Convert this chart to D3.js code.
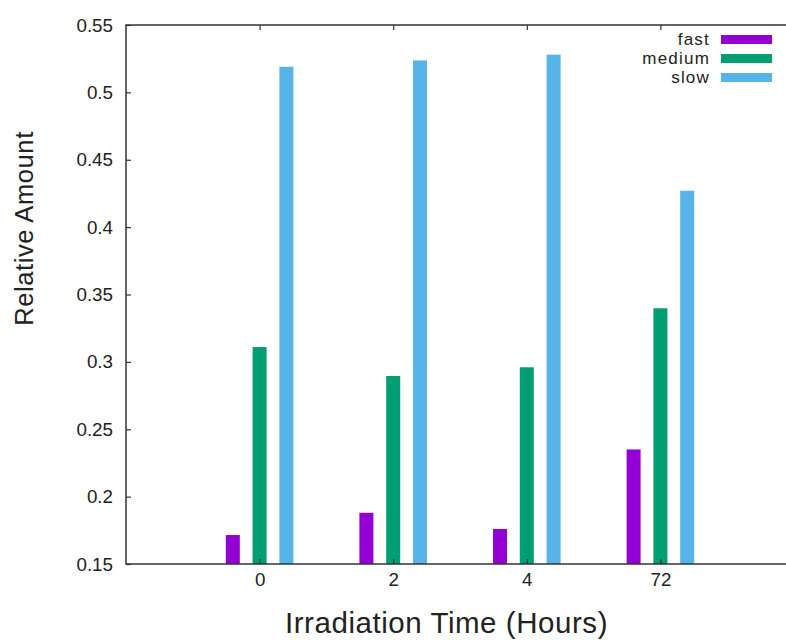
<!DOCTYPE html>
<html>
<head>
<meta charset="utf-8">
<script src="https://cdn.jsdelivr.net/npm/d3@7"></script>
<style>
  html, body { margin: 0; padding: 0; background: #fff; }
  svg { display: block; }
  text { font-family: "Liberation Sans", Arial, sans-serif; fill: #222; }
</style>
</head>
<body>
<svg id="chart" width="786" height="642"></svg>
<script>
// ---- data ----
const categories = ["0", "2", "4", "72"];
const seriesNames = ["fast", "medium", "slow"];
const fastValues   = [0.1715, 0.188, 0.176, 0.235];
const mediumValues = [0.311, 0.2895, 0.296, 0.3398];
const slowValues   = [0.519, 0.5237, 0.528, 0.427];
const seriesColors = ["#9400D3", "#009E73", "#56B4E9"];
const yTicks = [0.15, 0.2, 0.25, 0.3, 0.35, 0.4, 0.45, 0.5, 0.55];
const yTickLabels = ["0.15", "0.2", "0.25", "0.3", "0.35", "0.4", "0.45", "0.5", "0.55"];
const xTitle = "Irradiation Time (Hours)";
const yTitle = "Relative Amount";

const seriesValues = [fastValues, mediumValues, slowValues];

// ---- layout ----
const plotLeft = 126, plotTop = 25, plotBottom = 564;
const step = 133.6;
const plotRight = plotLeft + step * 5;

const svg = d3.select("#chart");
svg.append("rect").attr("width", 786).attr("height", 642).attr("fill", "#fff");

const x = d3.scalePoint().domain(categories)
  .range([plotLeft + step, plotLeft + step * 4]);
const xOff = d3.scalePoint().domain(seriesNames).range([-26.8, 26.8]);
const barW = 14;
const y = d3.scaleLinear().domain([0.15, 0.55]).range([plotBottom, plotTop]);

// bars
seriesNames.forEach((s, si) => {
  svg.append("g").selectAll("rect")
    .data(categories.map((c, ci) => ({ c, v: seriesValues[si][ci] })))
    .join("rect")
    .attr("x", d => x(d.c) + xOff(s) - barW / 2)
    .attr("width", barW)
    .attr("y", d => y(d.v))
    .attr("height", d => y(0.15) - y(d.v))
    .attr("fill", seriesColors[si]);
});

// axes
const yAxis = d3.axisLeft(y).tickValues(yTicks)
  .tickFormat((d, i) => yTickLabels[i]).tickSizeInner(-5).tickSizeOuter(0).tickPadding(13);
const gy = svg.append("g").attr("transform", `translate(${plotLeft},0)`).call(yAxis);

const xAxis = d3.axisBottom(x).tickSizeInner(-5).tickSizeOuter(0).tickPadding(9);
const gx = svg.append("g").attr("transform", `translate(0,${plotBottom})`).call(xAxis);

const xAxisTop = d3.axisTop(x).tickSizeInner(-5).tickSizeOuter(0).tickFormat("");
const gxt = svg.append("g").attr("transform", `translate(0,${plotTop})`).call(xAxisTop);

[gy, gx, gxt].forEach(g => {
  g.select(".domain").remove();
  g.selectAll(".tick line").attr("stroke", "#333").attr("stroke-width", 1.2);
  g.selectAll(".tick text").attr("font-size", 18.8)
    .attr("font-family", "'Liberation Sans', Arial, sans-serif").attr("fill", "#222");
});

// frame
svg.append("rect")
  .attr("x", plotLeft).attr("y", plotTop)
  .attr("width", plotRight - plotLeft).attr("height", plotBottom - plotTop)
  .attr("fill", "none").attr("stroke", "#333").attr("stroke-width", 1.5);

// legend
const lg = svg.append("g");
seriesNames.forEach((s, i) => {
  const cy = 39.5 + i * 19;
  lg.append("text").attr("x", 710).attr("y", cy + 5.5)
    .attr("text-anchor", "end").attr("font-size", 17)
    .attr("letter-spacing", 1.2).text(s);
  lg.append("rect").attr("x", 721).attr("y", cy - 4.5)
    .attr("width", 51).attr("height", 9).attr("fill", seriesColors[i]);
});

// titles
svg.append("text")
  .attr("transform", "translate(33,228.5) rotate(-90)")
  .attr("text-anchor", "middle").attr("font-size", 25.5)
  .attr("letter-spacing", 0.6).text(yTitle);
svg.append("text")
  .attr("x", 446.5).attr("y", 633)
  .attr("text-anchor", "middle").attr("font-size", 29.5)
  .attr("letter-spacing", 0.55).text(xTitle);
</script>
</body>
</html>
